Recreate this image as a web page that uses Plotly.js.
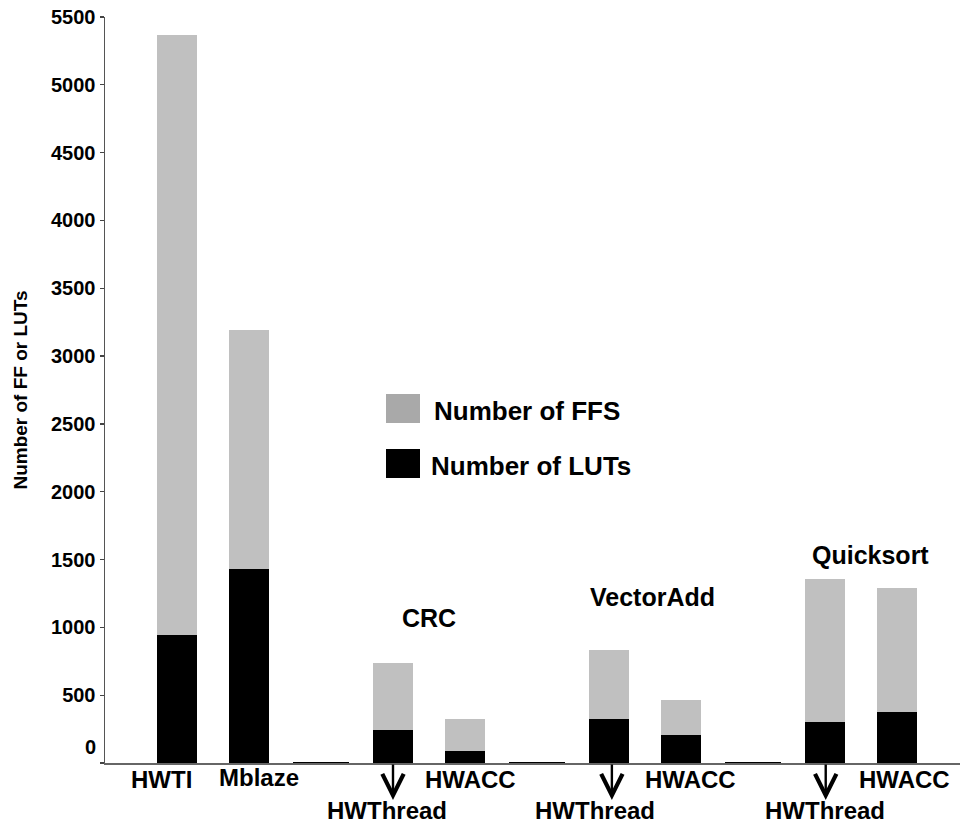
<!DOCTYPE html>
<html>
<head>
<meta charset="utf-8">
<script src="https://cdn.plot.ly/plotly-3.0.1.min.js"></script>
<style>html,body{margin:0;padding:0;background:#fff;}#chart{width:960px;height:824px;}</style>
</head>
<body>
<div id="chart"></div>
<script>
// Slot positions along the x axis (gaps between groups at 2, 5, 8)
const barSlots = [0, 1, 3, 4, 6, 7, 9, 10];
const barNames = ["HWTI", "Mblaze", "CRC HWThread", "CRC HWACC", "VectorAdd HWThread", "VectorAdd HWACC", "Quicksort HWThread", "Quicksort HWACC"];
const lutValues = [944, 1430, 243, 88, 324, 206, 302, 376];
const ffValues = [4423, 1762, 494, 236, 509, 258, 1054, 914];
const gapSlots = [2, 5, 8];
const gapValues = [0, 0, 0];
const yTickVals = [0, 500, 1000, 1500, 2000, 2500, 3000, 3500, 4000, 4500, 5000, 5500];
const groupNames = ["CRC", "VectorAdd", "Quicksort"];
const bottomLabels = ["HWTI", "Mblaze", "HWACC", "HWACC", "HWACC"];
const threadLabel = "HWThread";
const legendNames = ["Number of FFS", "Number of LUTs"];

const FONT = "Liberation Sans, Arial, Helvetica, sans-serif";
const PLOT_TOP = 17, PLOT_BOTTOM = 763;
const py = p => (PLOT_BOTTOM - p) / (PLOT_BOTTOM - PLOT_TOP);

const traces = [
  {type: "bar", x: barSlots, y: lutValues, name: legendNames[1], width: 0.556,
   marker: {color: "#000000"}, hoverinfo: "y"},
  {type: "bar", x: barSlots, y: ffValues, name: legendNames[0], width: 0.556,
   marker: {color: "#c0c0c0"}, hoverinfo: "y"},
  {type: "scatter", mode: "markers", x: gapSlots, y: gapValues, showlegend: false,
   marker: {symbol: "line-ew-open", size: 40, color: "#000", line: {color: "#000", width: 1.8}}, hoverinfo: "skip", cliponaxis: false}
];

const LBL = 24;
const annotations = [];
// group titles
const groupPos = [[3.5, 618], [6.6, 597], [9.63, 555]];
groupNames.forEach((g, i) => annotations.push({
  text: "<b>" + g + "</b>", x: groupPos[i][0], xref: "x", y: py(groupPos[i][1]), yref: "paper",
  showarrow: false, font: {family: FONT, size: 25, color: "#000"}, xanchor: "center", yanchor: "middle"}));
// bottom labels
const bottomPos = [[-0.21, 780], [1.14, 778], [4.08, 780], [7.125, 780], [10.11, 780]];
bottomLabels.forEach((t, i) => annotations.push({
  text: "<b>" + t + "</b>", x: bottomPos[i][0], xref: "x", y: py(bottomPos[i][1]), yref: "paper",
  showarrow: false, font: {family: FONT, size: LBL, color: "#000"}, xanchor: "center", yanchor: "middle"}));
// HWThread labels with arrows
const threadText = [[2.92, 3], [5.8, 6.04], [9.0, 9.01]];
threadText.forEach(p => {
  annotations.push({text: "<b>" + threadLabel + "</b>", x: p[0], xref: "x", y: py(810), yref: "paper",
    showarrow: false, font: {family: FONT, size: LBL, color: "#000"}, xanchor: "center", yanchor: "middle"});
  annotations.push({text: "", x: p[1], xref: "x", y: py(800), yref: "paper", showarrow: true,
    ax: 0, ay: -37, arrowhead: 5, arrowsize: 1.75, arrowwidth: 2.4, arrowcolor: "#000"});
});
// zero label shifted up as in reference
annotations.push({text: "<b>0</b>", x: 0, xref: "paper", xshift: -7, y: 0, yref: "y", yshift: 16,
  showarrow: false, xanchor: "right", yanchor: "middle", font: {family: FONT, size: 20, color: "#000"}});
// legend text
annotations.push({text: "<b>" + legendNames[0] + "</b>", x: (432 - 105) / 855, xref: "paper", y: py(411), yref: "paper",
  showarrow: false, xanchor: "left", yanchor: "middle", font: {family: FONT, size: 26, color: "#000"}});
annotations.push({text: "<b>" + legendNames[1] + "</b>", x: (429 - 105) / 855, xref: "paper", y: py(466), yref: "paper",
  showarrow: false, xanchor: "left", yanchor: "middle", font: {family: FONT, size: 26, color: "#000"}});

const shapes = [
  {type: "rect", xref: "paper", yref: "paper", x0: (386 - 105) / 855, x1: (420 - 105) / 855, y0: py(423), y1: py(394),
   fillcolor: "#a9a9a9", line: {width: 0}},
  {type: "rect", xref: "paper", yref: "paper", x0: (386 - 105) / 855, x1: (420 - 105) / 855, y0: py(478), y1: py(449),
   fillcolor: "#000000", line: {width: 0}}
];

const layout = {
  width: 960, height: 824,
  margin: {l: 105, r: 0, t: 17, b: 61, pad: 0},
  paper_bgcolor: "#fff", plot_bgcolor: "#fff",
  barmode: "stack", bargap: 0, showlegend: false,
  font: {family: FONT, color: "#000"},
  xaxis: {range: [-1, 10.875], showticklabels: false, ticks: "", showgrid: false, zeroline: false,
          showline: true, linecolor: "#666", linewidth: 1.5, fixedrange: true},
  yaxis: {range: [0, 5500], tickvals: yTickVals,
          ticktext: yTickVals.map(v => v === 0 ? "" : "<b>" + v + "</b>"),
          ticks: "outside", ticklen: 4, tickcolor: "#444", tickwidth: 1.2,
          showgrid: false, zeroline: false, showline: true, linecolor: "#555", linewidth: 1.5,
          tickfont: {family: FONT, size: 20, color: "#000"},
          title: {text: "<b>Number of FF or LUTs</b>", font: {family: FONT, size: 19, color: "#000"}, standoff: 18}},
  annotations: annotations,
  shapes: shapes
};

Plotly.newPlot("chart", traces, layout, {displayModeBar: false, staticPlot: true});
</script>
</body>
</html>
